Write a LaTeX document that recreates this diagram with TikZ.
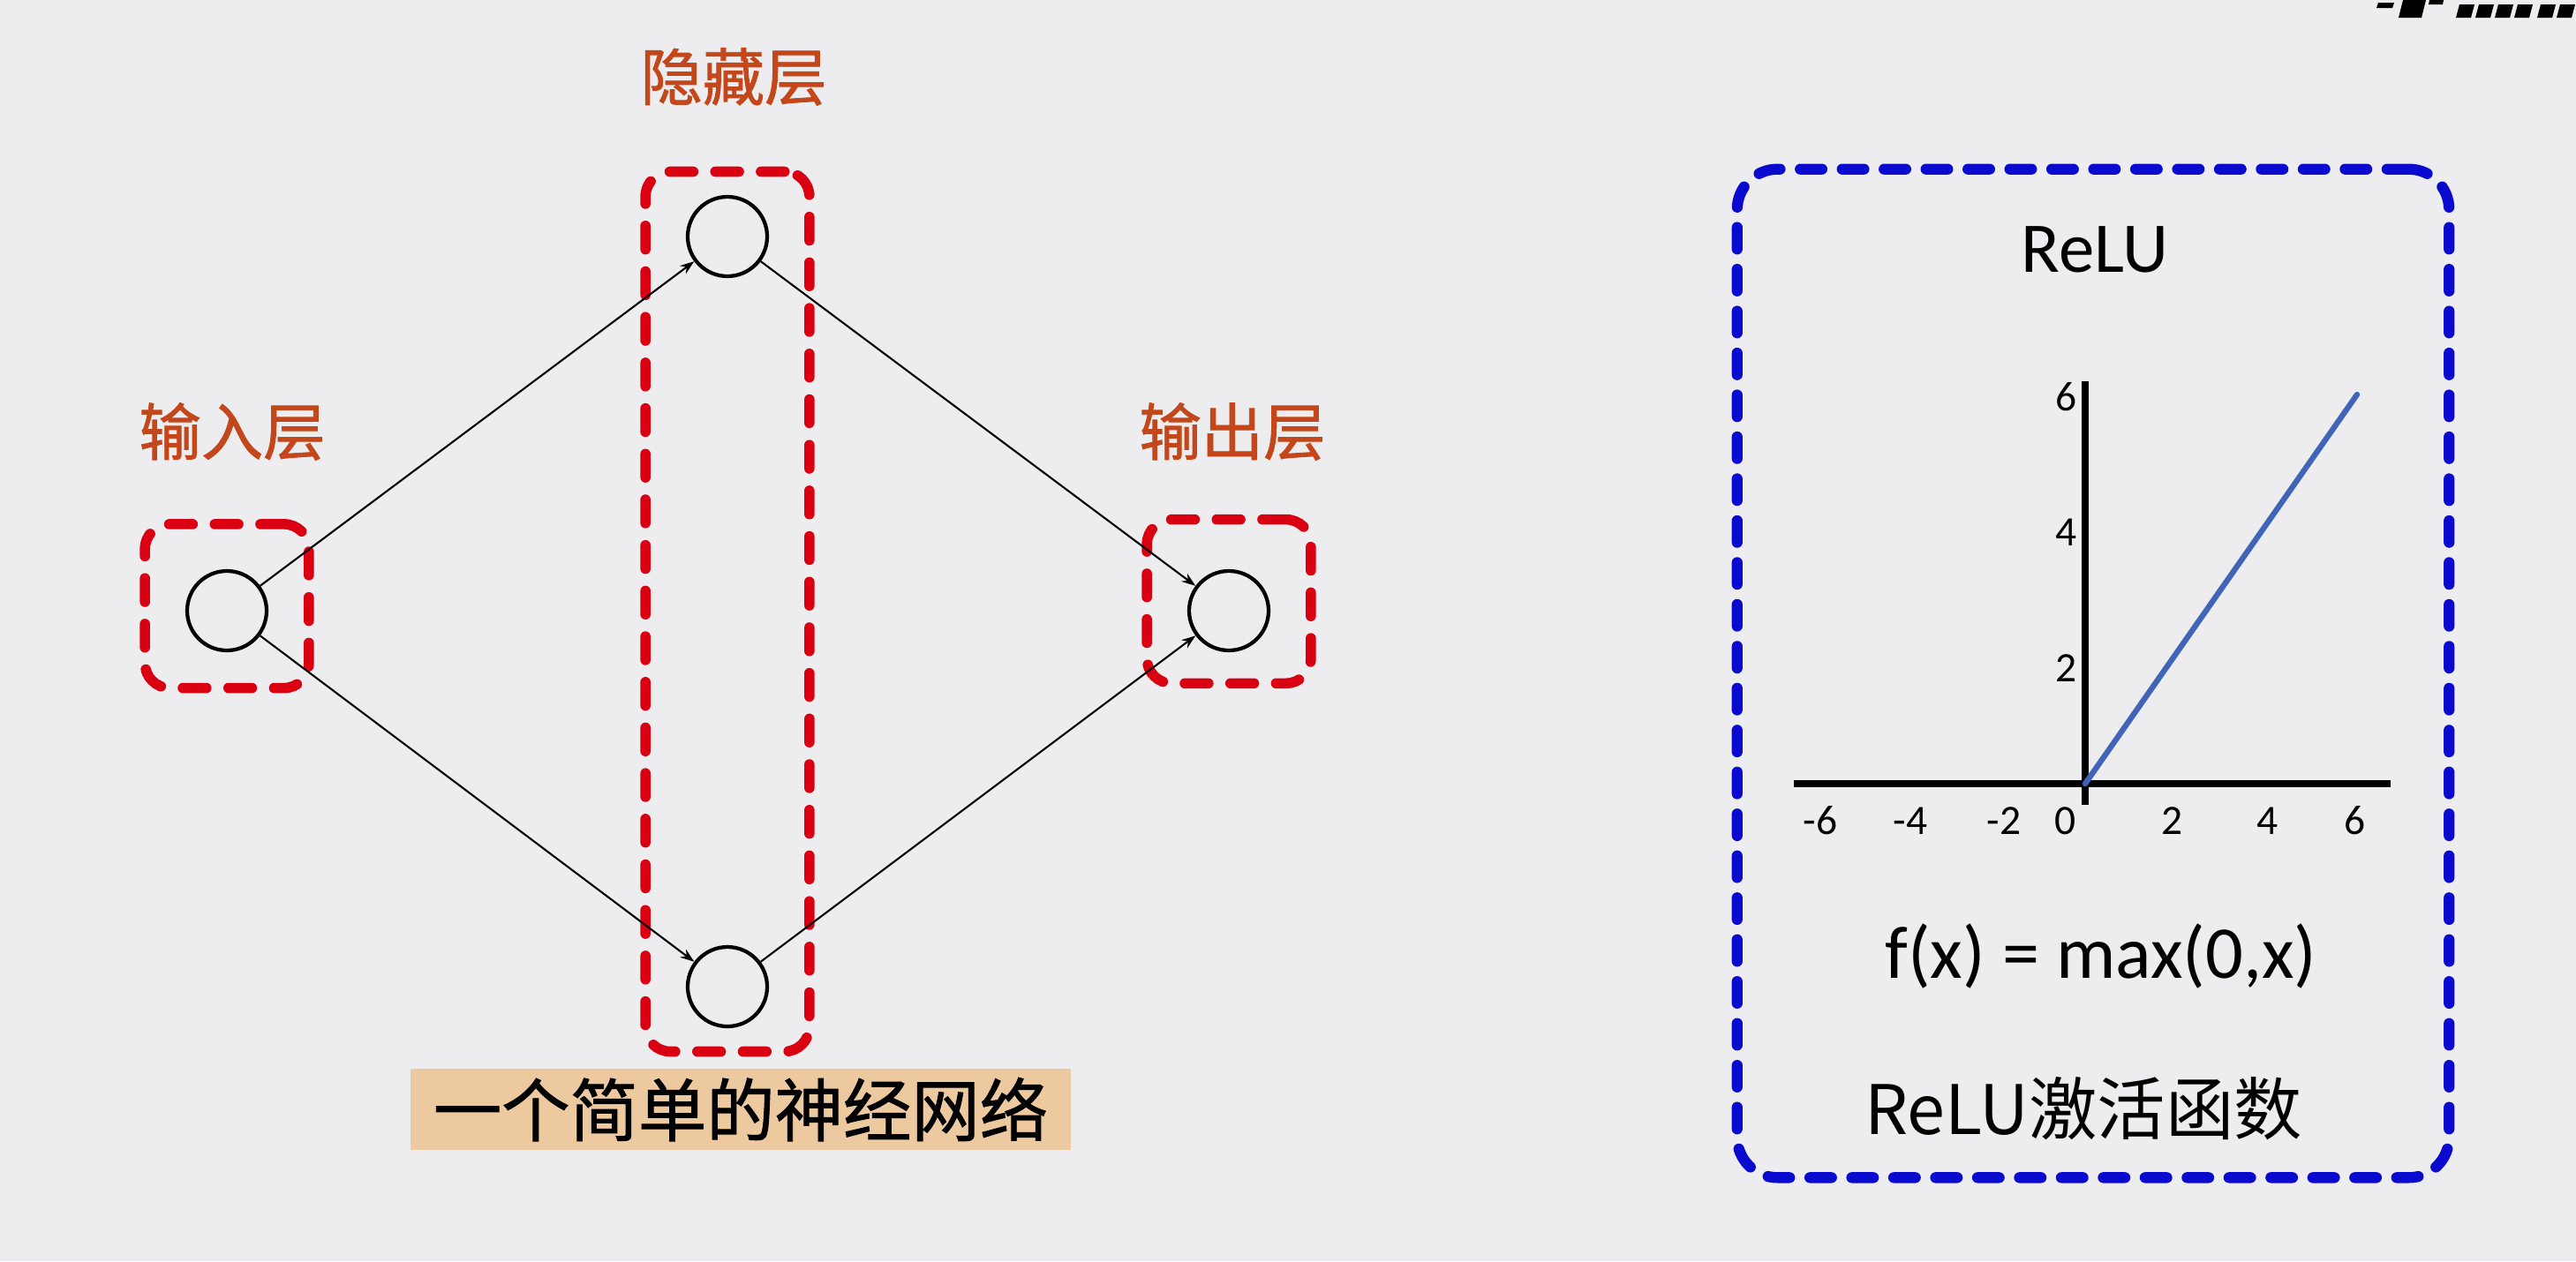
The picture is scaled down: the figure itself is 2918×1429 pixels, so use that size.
\documentclass[tikz,border=0pt]{standalone}
\usepackage{fontspec}
\setmainfont{Carlito}
\newfontfamily\cjk{Noto Sans CJK SC}
\newfontfamily\cjkmed[FakeBold=1.2]{Noto Sans CJK SC}
\usetikzlibrary{arrows.meta,positioning,fit}
\definecolor{layerred}{HTML}{D90012}
\definecolor{labelbrown}{HTML}{C4471C}
\definecolor{boxblue}{HTML}{0A0ACF}
\definecolor{relublue}{HTML}{4064B8}
\definecolor{captan}{HTML}{EDC9A0}
\definecolor{slidebg}{HTML}{EDECEE}

\begin{document}
\begin{tikzpicture}[x=0.01cm, y=-0.01cm,
  neuron/.style={draw, circle, line width=1.2pt, minimum size=25.6pt, inner sep=0pt},
  layerbox/.style={draw=layerred, line width=3.3pt, line cap=round, dash pattern=on 7.6pt off 7.1pt, rounded corners=8pt, inner sep=13pt},
  layerlabel/.style={text=labelbrown, font=\cjkmed\fontsize{20}{24}\selectfont},
  conn/.style={line width=0.6pt, -{Stealth[length=4.5pt,width=3.2pt]}},
  funcbox/.style={draw=boxblue, line width=3.5pt, line cap=round, dash pattern=on 7pt off 6.5pt, rounded corners=13pt},
  axisline/.style={line width=2.4pt},
  tick/.style={font=\fontsize{13.5}{15}\selectfont, inner sep=0pt}]

  \fill[slidebg] (0,0) rectangle (2918,1429);
  \useasboundingbox (0,0) rectangle (2918,1429);

  % logo scraps, top right
  \fill (2694,3) -- (2712,3) -- (2710,9) -- (2692,9) -- cycle;
  \fill (2722,0) -- (2748,0) -- (2743,20) -- (2717,20) -- cycle;
  \fill (2752,0) -- (2768,0) -- (2767,5) -- (2751,5) -- cycle;
  \foreach \bx in {2782,2804,2826,2848,2874,2896}
    \fill (\bx+4,5) -- (\bx+21,5) -- (\bx+17,20) -- (\bx,20) -- cycle;

  % network
  \node[neuron] (in) at (257,692) {};
  \node[neuron] (h1) at (824,268) {};
  \node[neuron] (h2) at (824,1118) {};
  \node[neuron] (out) at (1392,692) {};

  \node[layerbox, fit=(in), yshift=1.5pt] (inbox) {};
  \node[layerbox, fit=(h1)(h2), inner ysep=7.5pt] (hidbox) {};
  \node[layerbox, fit=(out), yshift=3pt] (outbox) {};

  \node[layerlabel] (inlabel) at (263,489) {输入层};
  \node[layerlabel] (hidlabel) at (831,87) {隐藏层};
  \node[layerlabel] (outlabel) at (1396,489) {输出层};

  \draw[conn] (in) -- (h1);
  \draw[conn] (in) -- (h2);
  \draw[conn] (h1) -- (out);
  \draw[conn] (h2) -- (out);

  \node[fill=captan, minimum width=7.48cm, minimum height=0.92cm, inner sep=0pt,
    font=\cjkmed\fontsize{22}{26}\selectfont] (caption) at (839,1257) {一个简单的神经网络};

  % relu panel
  \node[funcbox, minimum width=8.06cm, minimum height=11.42cm] (relubox) at (2371,763) {};
  \node[font=\fontsize{23}{28}\selectfont] (relutitle) at (2373,283) {ReLU};

  \coordinate (xl) at (2032,888);
  \coordinate (xr) at (2708,888);
  \coordinate (yt) at (2362,432);
  \coordinate (yb) at (2362,912);
  \coordinate (orig) at (2362,888);
  \coordinate (relutop) at (2670,447);
  \draw[axisline] (xl) -- (xr);
  \draw[axisline] (yb) -- (yt);
  \draw[relublue, line width=1.8pt, line cap=round] (orig) -- (relutop);

  \foreach \v/\px in {-6/2062,-4/2164,-2/2270,0/2339,2/2460,4/2568,6/2667}
    \node[tick] (xt\v) at (\px,930) {\v};
  \foreach \v/\py in {6/450,4/603,2/757}
    \node[tick] (yt\v) at (2340,\py) {\v};

  \node[font=\fontsize{24}{28}\selectfont] (formula) at (2380,1083) {f(x) = max(0,x)};
  \node[font=\cjk\fontsize{22}{26}\selectfont] (relucap) at (2360,1256) {ReLU激活函数};
\end{tikzpicture}
\end{document}
